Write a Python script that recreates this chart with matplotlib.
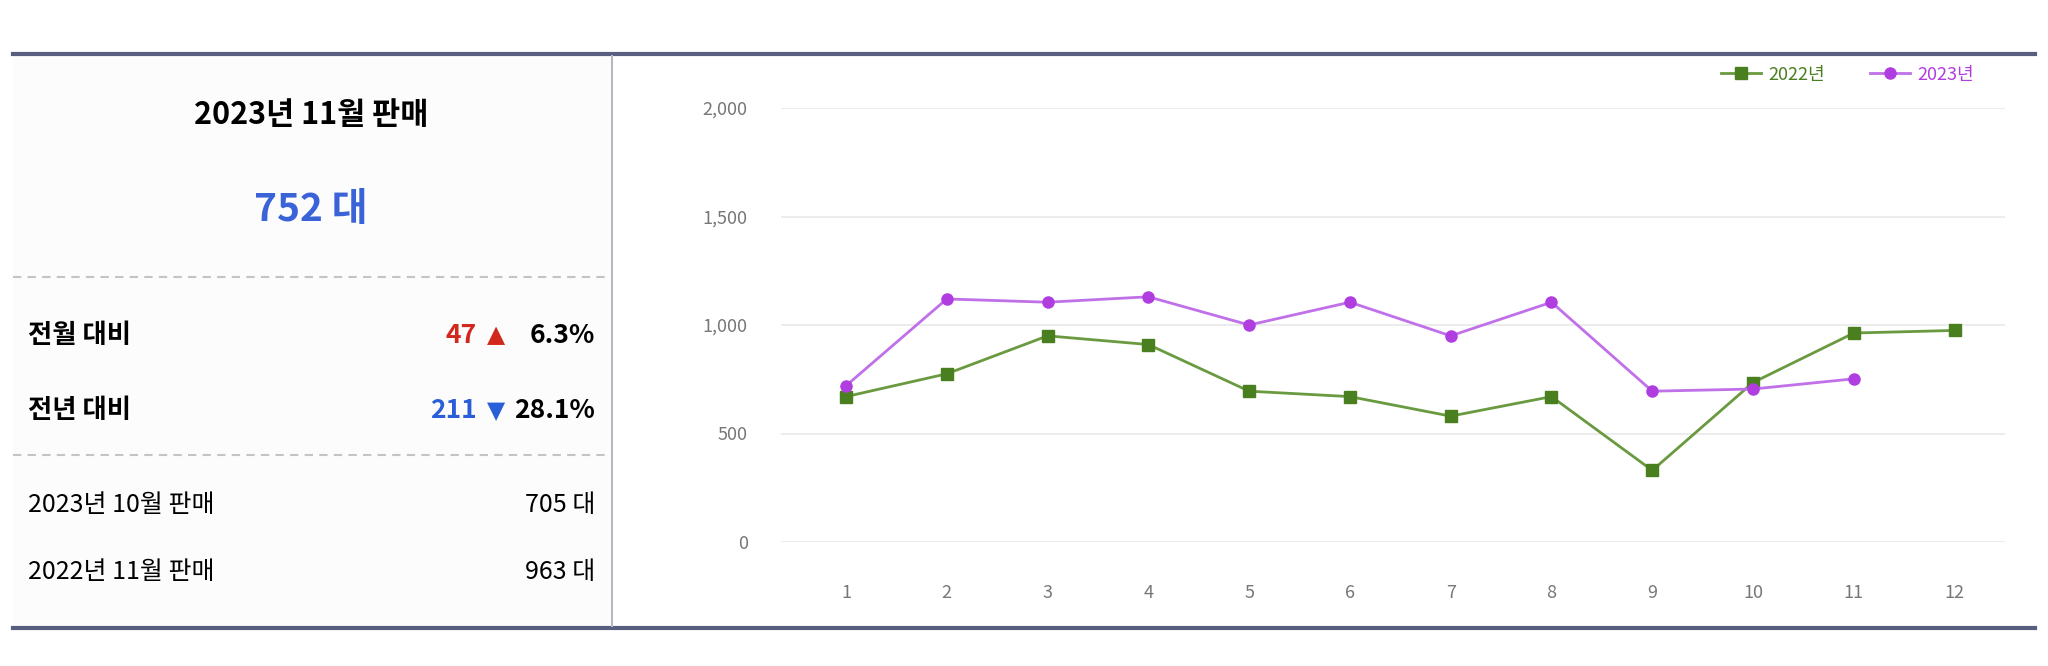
import matplotlib.pyplot as plt
from matplotlib.lines import Line2D

plt.rcParams['font.family'] = ['Noto Sans CJK KR', 'DejaVu Sans']

months = list(range(1, 13))
sales_2022 = [670, 775, 950, 910, 695, 670, 580, 670, 330, 735, 963, 975]
sales_2023 = [720, 1120, 1105, 1130, 1000, 1105, 950, 1105, 695, 705, 752]
y_ticks = [0, 500, 1000, 1500, 2000]

W, H = 2048, 666
fig = plt.figure(figsize=(W / 100, H / 100), dpi=100)
fig.patch.set_facecolor('white')


def fx(px):
    return px / W


def fy(py):
    return 1 - py / H


# left summary panel
panel = fig.add_axes([fx(13), fy(628), fx(612 - 13), (628 - 54) / H])
panel.set_facecolor('#fcfcfc')
panel.set_xticks([]); panel.set_yticks([])
for s in panel.spines.values():
    s.set_visible(False)

fig.add_artist(Line2D([fx(13), fx(2035)], [fy(54), fy(54)], color='#585e80', lw=3))
fig.add_artist(Line2D([fx(13), fx(2035)], [fy(628), fy(628)], color='#585e80', lw=3))
fig.add_artist(Line2D([fx(612), fx(612)], [fy(56), fy(626)], color='#b8b8c0', lw=1.5))
for yy in (277, 455):
    fig.add_artist(Line2D([fx(13), fx(605)], [fy(yy), fy(yy)], color='#c4c4c4',
                          lw=1.5, ls=(0, (4, 3))))

fig.text(fx(311), fy(115), '2023년 11월 판매', ha='center', va='center',
         fontsize=22, fontweight='bold', color='black')
fig.text(fx(311), fy(209), '752 대', ha='center', va='center',
         fontsize=28, fontweight='bold', color='#3a63d8')

fig.text(fx(28), fy(335), '전월 대비', ha='left', va='center', fontsize=19, fontweight='bold')
fig.text(fx(28), fy(411), '전년 대비', ha='left', va='center', fontsize=19, fontweight='bold')
fig.text(fx(595), fy(335), '6.3%', ha='right', va='center', fontsize=19, fontweight='bold')
fig.text(fx(595), fy(411), '28.1%', ha='right', va='center', fontsize=19, fontweight='bold')
fig.text(fx(505), fy(335), '▲', ha='right', va='center', fontsize=17,
         color='#d0281c', family=['DejaVu Sans'])
fig.text(fx(505), fy(411), '▼', ha='right', va='center', fontsize=17,
         color='#2a5ed8', family=['DejaVu Sans'])
fig.text(fx(477), fy(335), '47', ha='right', va='center', fontsize=19,
         fontweight='bold', color='#d0281c')
fig.text(fx(477), fy(411), '211', ha='right', va='center', fontsize=19,
         fontweight='bold', color='#2a5ed8')

fig.text(fx(28), fy(505), '2023년 10월 판매', ha='left', va='center', fontsize=18)
fig.text(fx(28), fy(572), '2022년 11월 판매', ha='left', va='center', fontsize=18)
fig.text(fx(595), fy(505), '705 대', ha='right', va='center', fontsize=18)
fig.text(fx(595), fy(572), '963 대', ha='right', va='center', fontsize=18)

# line chart
ax = fig.add_axes([fx(781), fy(542), fx(2005 - 781), (542 - 108) / H])
ax.set_xlim(0.355, 12.5)
ax.set_ylim(0, 2000)
ax.set_yticks(y_ticks)
ax.set_yticklabels([f'{v:,}' for v in y_ticks])
ax.set_xticks(months)
ax.grid(axis='y', color='#ececec', lw=1.5)
ax.set_axisbelow(True)
for s in ax.spines.values():
    s.set_visible(False)
ax.tick_params(length=0, labelsize=13, labelcolor='#777777')
ax.tick_params(axis='y', pad=24)
ax.tick_params(axis='x', pad=30)

ax.plot(months, sales_2022, color='#6a9a40', lw=2, marker='s', ms=8,
        mfc='#4a7f20', mec='#4a7f20', label='2022년', clip_on=False)
ax.plot(months[:len(sales_2023)], sales_2023, color='#c070e8', lw=2, marker='o', ms=8,
        mfc='#b03de0', mec='#b03de0', label='2023년', clip_on=False)

leg = ax.legend(loc='lower right', bbox_to_anchor=(fx(1990), fy(100)),
                bbox_transform=fig.transFigure, ncol=2, frameon=False,
                fontsize=13, handlelength=2.2, columnspacing=2.5, handletextpad=0.4)
for t, c in zip(leg.get_texts(), ['#4a7f20', '#b03de0']):
    t.set_color(c)

fig.savefig('out.png', dpi=100)
